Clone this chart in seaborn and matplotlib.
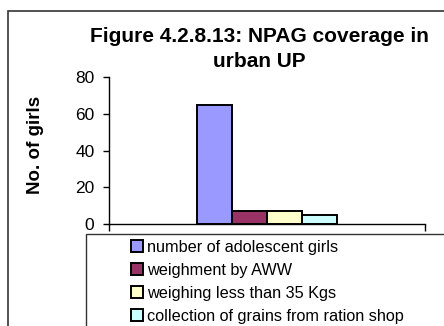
import matplotlib
matplotlib.use("Agg")
import matplotlib.pyplot as plt
from matplotlib.patches import Rectangle
import pandas as pd
import seaborn as sns

series = [
    "number of adolescent girls",
    "weighment by AWW",
    "weighing less than 35 Kgs",
    "collection of grains from ration shop",
]
values = [65, 7, 7, 5]
colors = ["#9999FF", "#993366", "#FFFFCC", "#CCFFFF"]
yticks = [0, 20, 40, 60, 80]

sns.set_theme(style="white")
plt.rcParams["font.family"] = ["Liberation Sans", "DejaVu Sans"]
plt.rcParams.update({"text.color": "black", "axes.labelcolor": "black",
                     "xtick.color": "black", "ytick.color": "black"})

df = pd.DataFrame({"group": [""] * len(series), "series": series, "value": values})

W, H = 444, 326
fig = plt.figure(figsize=(W / 100, H / 100), dpi=100)
ax = fig.add_axes([109 / W, 1 - 224 / H, (425 - 109) / W, (224 - 77.3) / H])

sns.barplot(data=df, x="group", y="value", hue="series", hue_order=series,
            palette=colors, width=0.445, edgecolor="black", linewidth=1.4,
            saturation=1, ax=ax, legend=False)

ax.set_xlim(-0.5, 0.5)
ax.set_ylim(0, 80)
ax.set_yticks(yticks)
ax.set_yticklabels([str(t) for t in yticks], fontsize=12.5, color="black")
ax.set_xticks([-0.5, 0.5])
ax.set_xticklabels(["", ""])
ax.set_xlabel("")
ax.set_ylabel("")
for s in ["top", "right"]:
    ax.spines[s].set_visible(False)
for s in ["left", "bottom"]:
    ax.spines[s].set_color("black")
    ax.spines[s].set_linewidth(1.0)
ax.tick_params(axis="both", which="both", direction="out", length=4.5, width=1.0,
               color="black", left=True, bottom=True, pad=6, labelcolor="black")
ax.tick_params(axis="x", length=5)

fig.text(36 / W, 1 - 145 / H, "No. of girls", rotation=90, ha="center", va="center",
         fontsize=13.5, fontweight="bold", color="black")
fig.text(259 / W, 1 - 49 / H, "Figure 4.2.8.13: NPAG coverage in\nurban UP",
         ha="center", va="center", fontsize=15, fontweight="bold", linespacing=1.45,
         color="black")

# outer chart frame and legend frame
fig.patches.append(Rectangle((8 / W, -0.1), 1.2, 1 - 11 / H + 0.1, transform=fig.transFigure,
                             fill=False, edgecolor="#333333", linewidth=1.2))
fig.patches.append(Rectangle((86 / W, -0.1), 1.2, 1 - 234 / H + 0.1, transform=fig.transFigure,
                             fill=False, edgecolor="#333333", linewidth=1.0))

handles = [Rectangle((0, 0), 1, 1, facecolor=c, edgecolor="black", linewidth=1.4) for c in colors]
leg = fig.legend(handles, series, loc="upper left", bbox_to_anchor=(131 / W, 1 - 240 / H),
                 frameon=False, fontsize=11.7, handlelength=0.75, handleheight=0.75,
                 handletextpad=0.25, labelspacing=0.49, borderpad=0, borderaxespad=0)
for t in leg.get_texts():
    t.set_color("black")

fig.savefig("out.png", dpi=100)
